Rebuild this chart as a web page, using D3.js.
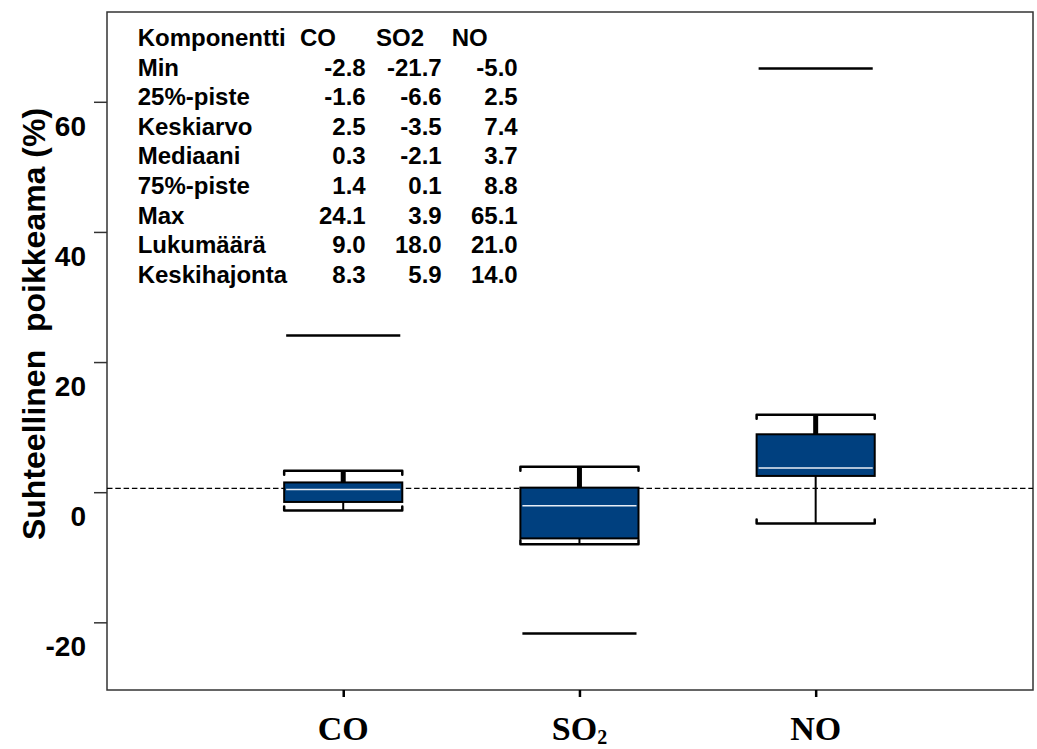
<!DOCTYPE html>
<html>
<head>
<meta charset="utf-8">
<script src="https://cdn.jsdelivr.net/npm/d3@7"></script>
<style>
  body { margin: 0; background: #fff; }
  text { font-family: "Liberation Sans", Arial, sans-serif; font-weight: bold; }
</style>
</head>
<body>
<div id="chart"></div>
<script>
// Box plot data
const categories = ["CO", "SO2", "NO"];
const whiskerLow = [-2.8, -8.0, -4.8];
const q1 = [-1.5, -7.1, 2.5];
const median = [0.4, -2.1, 3.7];
const q3 = [1.5, 0.7, 8.9];
const whiskerHigh = [3.3, 3.9, 11.9];
const extremes = [24.1, -21.7, 65.1];
const refLine = 0.6;
const yTicks = [-20, 0, 20, 40, 60];

// Statistics table
const statLabels = ["Min", "25%-piste", "Keskiarvo", "Mediaani", "75%-piste", "Max", "Lukumäärä", "Keskihajonta"];
const coStats = ["-2.8", "-1.6", "2.5", "0.3", "1.4", "24.1", "9.0", "8.3"];
const so2Stats = ["-21.7", "-6.6", "-3.5", "-2.1", "0.1", "3.9", "18.0", "5.9"];
const noStats = ["-5.0", "2.5", "7.4", "3.7", "8.8", "65.1", "21.0", "14.0"];

const W = 1037, H = 749;
const plot = {left: 107, right: 1033, top: 12, bottom: 690};

const svg = d3.select("#chart")
    .append("svg")
    .attr("width", W)
    .attr("height", H)
    .attr("viewBox", `0 0 ${W} ${H}`);

const x = d3.scaleLinear()
    .domain([0, 3.92])
    .range([plot.left, plot.right]);

const y = d3.scaleLinear()
    .domain([-30.4, 73.8])
    .range([plot.bottom, plot.top]);

const boxW = x(0.5) - x(0);
const blue = "#00407f";

// Frame
svg.append("rect")
    .attr("x", plot.left)
    .attr("y", plot.top)
    .attr("width", plot.right - plot.left)
    .attr("height", plot.bottom - plot.top)
    .attr("fill", "none")
    .attr("stroke", "#333")
    .attr("stroke-width", 1.5);

// Y axis (labels sit below their ticks, as in the original)
svg.append("g")
    .attr("transform", `translate(${plot.left},0)`)
    .call(d3.axisLeft(y)
        .tickValues(yTicks)
        .tickSize(13)
        .tickPadding(8)
        .tickFormat(d => String(d)))
    .call(g => g.select(".domain").remove())
    .call(g => g.selectAll("line").attr("stroke", "#333").attr("stroke-width", 1.5))
    .call(g => g.selectAll("text")
        .attr("fill", "#000")
        .attr("dy", "1.2em")
        .style("font-size", "28px")
        .style("font-family", "\"Liberation Sans\", Arial, sans-serif")
        .style("font-weight", "bold"));

// X axis ticks
svg.append("g")
    .attr("transform", `translate(0,${plot.bottom})`)
    .call(d3.axisBottom(x)
        .tickValues([1, 2, 3])
        .tickSize(7)
        .tickFormat(""))
    .call(g => g.select(".domain").remove())
    .call(g => g.selectAll("line").attr("stroke", "#000").attr("stroke-width", 2.5));

// X labels (serif, SO2 with subscript)
const xl = svg.selectAll(".xlab")
    .data(categories)
    .enter().append("text")
    .attr("class", "xlab")
    .attr("x", (d, i) => x(i + 1))
    .attr("y", 740)
    .attr("text-anchor", "middle")
    .style("font-family", "\"Liberation Serif\", \"Times New Roman\", serif")
    .style("font-size", "34px");
xl.each(function(d) {
    const t = d3.select(this);
    if (d === "SO2") {
        t.append("tspan").text("SO");
        t.append("tspan").attr("dy", 4).style("font-size", "20px").text("2");
    } else {
        t.text(d);
    }
});

// Y title
svg.append("text")
    .attr("transform", `translate(45,324) rotate(-90)`)
    .attr("text-anchor", "middle")
    .attr("xml:space", "preserve")
    .style("white-space", "pre")
    .style("font-size", "32px")
    .text("Suhteellinen  poikkeama (%)");

// Reference dashed line
svg.append("line")
    .attr("x1", plot.left)
    .attr("x2", plot.right)
    .attr("y1", y(refLine))
    .attr("y2", y(refLine))
    .attr("stroke", "#000")
    .attr("stroke-width", 1.3)
    .attr("stroke-dasharray", "5.5,2.8");

const idx = d3.range(categories.length);

// Upper whisker stem (thick)
svg.selectAll(".stemHi")
    .data(idx)
    .enter().append("line")
    .attr("x1", i => x(i + 1))
    .attr("x2", i => x(i + 1))
    .attr("y1", i => y(q3[i]))
    .attr("y2", i => y(whiskerHigh[i]))
    .attr("stroke", "#000")
    .attr("stroke-width", 5);

// Lower whisker stem (thin)
svg.selectAll(".stemLo")
    .data(idx)
    .enter().append("line")
    .attr("x1", i => x(i + 1))
    .attr("x2", i => x(i + 1))
    .attr("y1", i => y(q1[i]))
    .attr("y2", i => y(whiskerLow[i]))
    .attr("stroke", "#000")
    .attr("stroke-width", 2);

// Boxes
svg.selectAll(".box")
    .data(idx)
    .enter().append("rect")
    .attr("x", i => x(i + 1) - boxW / 2)
    .attr("width", boxW)
    .attr("y", i => y(q3[i]))
    .attr("height", i => y(q1[i]) - y(q3[i]))
    .attr("fill", blue)
    .attr("stroke", "#000")
    .attr("stroke-width", 2);

// Medians
svg.selectAll(".med")
    .data(idx)
    .enter().append("line")
    .attr("x1", i => x(i + 1) - boxW / 2 + 2)
    .attr("x2", i => x(i + 1) + boxW / 2 - 2)
    .attr("y1", i => y(median[i]))
    .attr("y2", i => y(median[i]))
    .attr("stroke", "#e8eef6")
    .attr("stroke-width", 1.5);

// Whisker caps (bracket shape, ends bent towards the box)
function cap(i, v, dir) {
    const x0 = x(i + 1) - boxW / 2, x1 = x(i + 1) + boxW / 2, yy = y(v);
    return `M${x0},${yy + dir * 4}L${x0},${yy}L${x1},${yy}L${x1},${yy + dir * 4}`;
}
svg.selectAll(".capHi")
    .data(idx)
    .enter().append("path")
    .attr("d", i => cap(i, whiskerHigh[i], 1))
    .attr("fill", "none")
    .attr("stroke", "#000")
    .attr("stroke-width", 2.5)
    .attr("stroke-linejoin", "round")
    .attr("stroke-linecap", "round");
svg.selectAll(".capLo")
    .data(idx)
    .enter().append("path")
    .attr("d", i => cap(i, whiskerLow[i], -1))
    .attr("fill", "none")
    .attr("stroke", "#000")
    .attr("stroke-width", 2.5)
    .attr("stroke-linejoin", "round")
    .attr("stroke-linecap", "round");

// Extreme value lines
svg.selectAll(".ext")
    .data(idx)
    .enter().append("line")
    .attr("x1", i => x(i + 1) - boxW / 2 + 2)
    .attr("x2", i => x(i + 1) + boxW / 2 - 2)
    .attr("y1", i => y(extremes[i]))
    .attr("y2", i => y(extremes[i]))
    .attr("stroke", "#000")
    .attr("stroke-width", 2.5);

// Statistics table
const table = svg.append("g").style("font-size", "24px");
const rowY = i => 46 + i * 29.6;
table.append("text").attr("x", 137.7).attr("y", rowY(0)).text("Komponentti");
[["CO", 300], ["SO2", 376], ["NO", 451.7]].forEach(([t, px]) =>
    table.append("text").attr("x", px).attr("y", rowY(0)).text(t));
table.selectAll(".rl")
    .data(statLabels)
    .enter().append("text")
    .attr("x", 137.7)
    .attr("y", (d, i) => rowY(i + 1))
    .text(d => d);
[[coStats, 365.7], [so2Stats, 441.7], [noStats, 517.7]].forEach(([col, px]) => {
    table.selectAll(null)
        .data(col)
        .enter().append("text")
        .attr("x", px)
        .attr("y", (d, i) => rowY(i + 1))
        .attr("text-anchor", "end")
        .text(d => d);
});
</script>
</body>
</html>
